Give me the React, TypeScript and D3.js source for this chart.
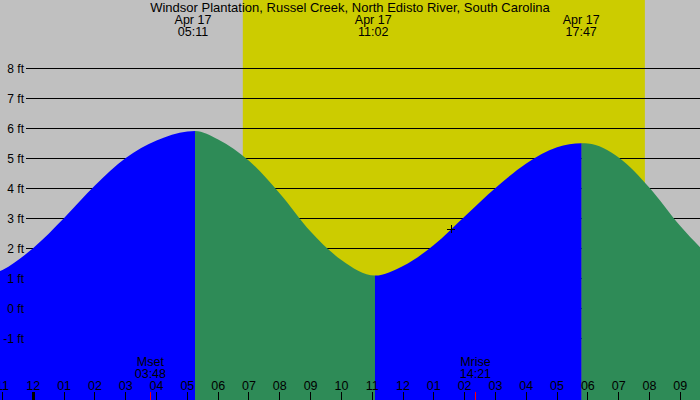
import React from "react";
import * as d3 from "d3";

const W = 700;
const H = 400;

const titleText = "Windsor Plantation, Russel Creek, North Edisto River, South Carolina";

// Tide samples (hours from midnight Apr 17, feet)
const tideHours = [-2, -1, 0, 1, 2, 3, 4, 5, 5.25, 6, 7, 8, 9, 10, 11.09, 12, 13, 14, 15, 16, 17, 17.8, 18, 19, 20, 21, 22];
const tideFeet = [0.98, 1.27, 2.0, 3.0, 4.08, 5.0, 5.58, 5.88, 5.9, 5.62, 4.91, 3.82, 2.55, 1.6, 1.08, 1.4, 2.1, 3.05, 4.0, 4.82, 5.36, 5.49, 5.48, 5.02, 4.01, 2.73, 1.65];

// Turning points of the drawn curve (high, low, high)
const turnHours = [5.25, 11.09, 17.8];

// Tide extremes, labelled at top
const extremeHours = [5.183, 11.033, 17.783];
const extremeDates = ["Apr 17", "Apr 17", "Apr 17"];
const extremeTimes = ["05:11", "11:02", "17:47"];

// Daylight
const sunriseHour = 6.8;
const sunsetHour = 19.85;

// Moon events
const moonHours = [3.8, 14.35];
const moonNames = ["Mset", "Mrise"];
const moonTimes = ["03:48", "14:21"];

// Axis ticks
const hourTicks = d3.range(-1, 22);
const hourLabels = ["11", "12", "01", "02", "03", "04", "05", "06", "07", "08", "09", "10", "11", "12", "01", "02", "03", "04", "05", "06", "07", "08", "09"];
const ftTicks = [8, 7, 6, 5, 4, 3, 2, 1, 0, -1];

// Current-time marker
const nowHour = [13.56];
const nowFeet = [2.63];

const FONT = "'Liberation Sans', Arial, sans-serif";

export default function App() {
  const x = d3.scaleLinear().domain([0, 21]).range([33.3, 680.3]);
  const y = d3.scaleLinear().domain([0, 8]).range([308, 68]);

  const pts: [number, number][] = tideHours.map((h, i) => [h, tideFeet[i]]);
  const area = d3
    .area<[number, number]>()
    .x((d) => x(d[0]))
    .y0(H + 10)
    .y1((d) => y(d[1]))
    .curve(d3.curveMonotoneX);
  const areaPath = area(pts) || "";

  // segments: rising (blue) / falling (green)
  const bounds = [-3, ...turnHours, 23];
  const segs = bounds.slice(0, -1).map((b, i) => ({
    x0: x(b),
    x1: x(bounds[i + 1]),
    color: i % 2 === 0 ? "#0000FF" : "#2E8B57",
  }));

  return (
    <svg
      width={W}
      height={H}
      style={{ position: "absolute", left: 0, top: 0, display: "block" }}
      fontFamily={FONT}
    >
      <defs>
        {segs.map((s, i) => (
          <clipPath id={`seg${i}`} key={i}>
            <rect x={s.x0} y={0} width={Math.max(0, s.x1 - s.x0)} height={H} />
          </clipPath>
        ))}
      </defs>
      <rect x={0} y={0} width={W} height={H} fill="#C0C0C0" />
      <rect x={x(sunriseHour)} y={0} width={x(sunsetHour) - x(sunriseHour)} height={H} fill="#CCCC00" />

      {ftTicks.map((f) => (
        <line key={f} x1={26} x2={W} y1={y(f)} y2={y(f)} stroke="#000" strokeWidth={1} shapeRendering="crispEdges" />
      ))}

      {segs.map((s, i) => (
        <path key={i} d={areaPath} fill={s.color} clipPath={`url(#seg${i})`} />
      ))}

      {ftTicks.map((f) => (
        <text key={f} x={24} y={y(f) + 4.5} textAnchor="end" fontSize={12} fill="#000">
          {`${f} ft`}
        </text>
      ))}

      <text x={350} y={12} textAnchor="middle" fontSize={13} fill="#000">
        {titleText}
      </text>
      {extremeHours.map((h, i) => (
        <g key={i}>
          <text x={x(h)} y={24} textAnchor="middle" fontSize={12.5} fill="#000">
            {extremeDates[i]}
          </text>
          <text x={x(h)} y={36} textAnchor="middle" fontSize={12.5} fill="#000">
            {extremeTimes[i]}
          </text>
        </g>
      ))}

      {moonHours.map((h, i) => (
        <g key={i}>
          <text x={x(h)} y={366} textAnchor="middle" fontSize={12.5} fill="#000">
            {moonNames[i]}
          </text>
          <text x={x(h)} y={378} textAnchor="middle" fontSize={12.5} fill="#000">
            {moonTimes[i]}
          </text>
          <line x1={x(h)} x2={x(h)} y1={392} y2={H} stroke="#FF0000" strokeWidth={1} shapeRendering="crispEdges" />
        </g>
      ))}

      {hourTicks.map((h, i) => (
        <g key={h}>
          <text x={x(h)} y={390} textAnchor="middle" fontSize={12.5} fill="#000">
            {hourLabels[i]}
          </text>
          <line
            x1={x(h)}
            x2={x(h)}
            y1={392}
            y2={H}
            stroke="#000"
            strokeWidth={h === 0 ? 3 : 1}
            shapeRendering="crispEdges"
          />
        </g>
      ))}

      {nowHour.map((h, i) => (
        <g key={i} stroke="#000" strokeWidth={1} shapeRendering="crispEdges">
          <line x1={x(h) - 4} x2={x(h) + 4} y1={y(nowFeet[i])} y2={y(nowFeet[i])} />
          <line x1={x(h)} x2={x(h)} y1={y(nowFeet[i]) - 4} y2={y(nowFeet[i]) + 4} />
        </g>
      ))}
    </svg>
  );
}
